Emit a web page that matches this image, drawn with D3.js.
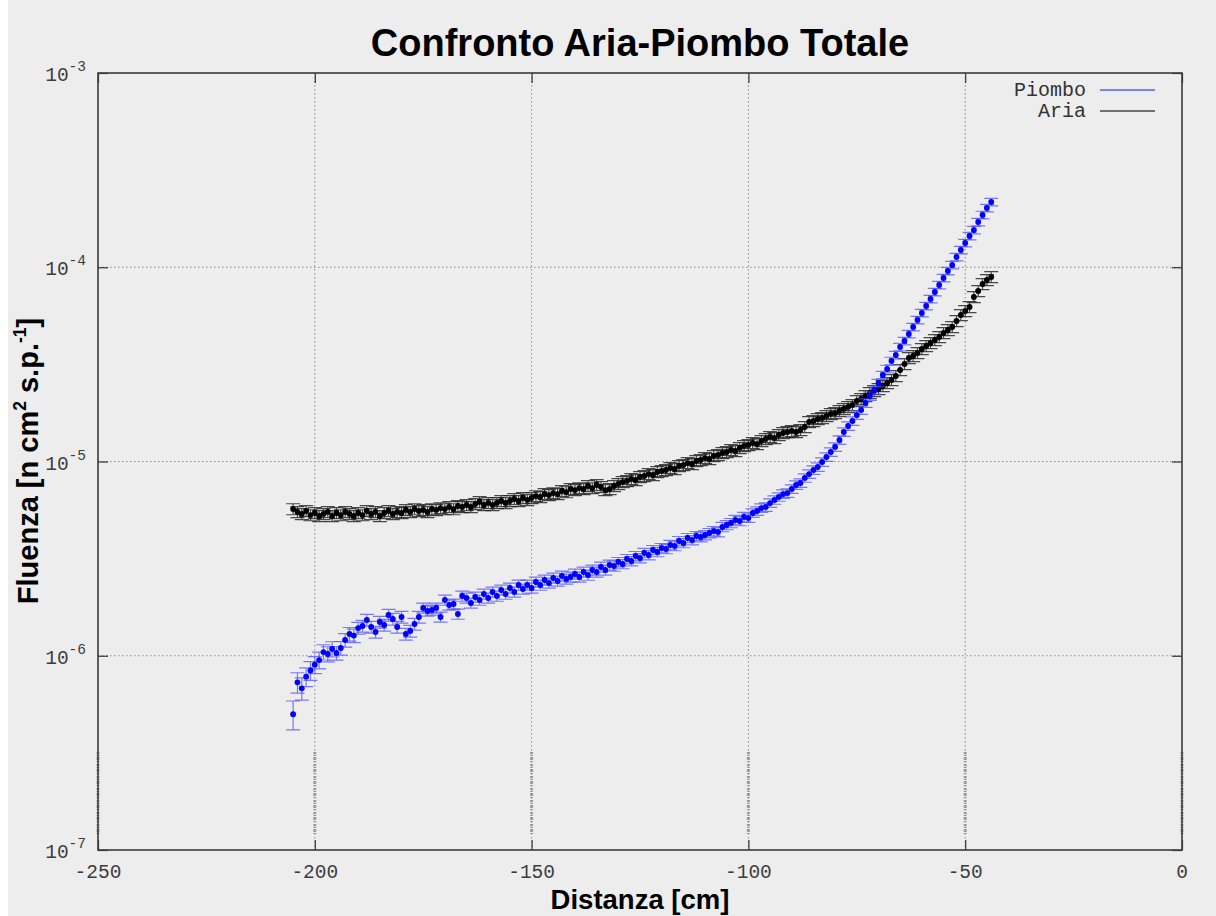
<!DOCTYPE html>
<html>
<head>
<meta charset="utf-8">
<script src="https://cdn.jsdelivr.net/npm/d3@7"></script>
<style>
  html, body { margin: 0; padding: 0; background: #ffffff; }
  svg { display: block; }
</style>
</head>
<body>
<svg id="chart" width="1216" height="916"></svg>
<script>
// Distance along the line [cm]
const distanza = [
  -205,-204,-203,-202,-201,-200,-199,-198,-197,-196,-195,-194,-193,-192,-191,-190,-189,-188,-187,-186,
  -185,-184,-183,-182,-181,-180,-179,-178,-177,-176,-175,-174,-173,-172,-171,-170,-169,-168,-167,-166,
  -165,-164,-163,-162,-161,-160,-159,-158,-157,-156,-155,-154,-153,-152,-151,-150,-149,-148,-147,-146,
  -145,-144,-143,-142,-141,-140,-139,-138,-137,-136,-135,-134,-133,-132,-131,-130,-129,-128,-127,-126,
  -125,-124,-123,-122,-121,-120,-119,-118,-117,-116,-115,-114,-113,-112,-111,-110,-109,-108,-107,-106,
  -105,-104,-103,-102,-101,-100,-99,-98,-97,-96,-95,-94,-93,-92,-91,-90,-89,-88,-87,-86,
  -85,-84,-83,-82,-81,-80,-79,-78,-77,-76,-75,-74,-73,-72,-71,-70,-69,-68,-67,-66,
  -65,-64,-63,-62,-61,-60,-59,-58,-57,-56,-55,-54,-53,-52,-51,-50,-49,-48,-47,-46,
  -45,-44
];

// Fluence with lead (Piombo) [n cm^2 s.p.^-1]
const piombo = [
  5.0e-7,7.3e-7,6.8e-7,7.8e-7,8.4e-7,9.0e-7,9.5e-7,1.045e-6,1.021e-6,1.083e-6,
  1.033e-6,1.096e-6,1.205e-6,1.294e-6,1.27e-6,1.389e-6,1.423e-6,1.528e-6,1.406e-6,1.325e-6,
  1.492e-6,1.440e-6,1.621e-6,1.546e-6,1.406e-6,1.583e-6,1.294e-6,1.341e-6,1.457e-6,1.583e-6,
  1.762e-6,1.700e-6,1.720e-6,1.762e-6,1.583e-6,1.936e-6,1.825e-6,1.847e-6,1.640e-6,2.030e-6,
  1.983e-6,1.869e-6,2.006e-6,1.936e-6,2.079e-6,1.983e-6,2.129e-6,2.030e-6,2.180e-6,2.079e-6,
  2.233e-6,2.129e-6,2.313e-6,2.206e-6,2.313e-6,2.233e-6,2.397e-6,2.313e-6,2.455e-6,2.369e-6,
  2.514e-6,2.426e-6,2.574e-6,2.485e-6,2.544e-6,2.635e-6,2.544e-6,2.699e-6,2.604e-6,2.764e-6,
  2.699e-6,2.863e-6,2.764e-6,2.932e-6,2.897e-6,3.038e-6,2.967e-6,3.148e-6,3.074e-6,3.262e-6,
  3.185e-6,3.381e-6,3.301e-6,3.503e-6,3.421e-6,3.587e-6,3.545e-6,3.717e-6,3.673e-6,3.896e-6,
  3.806e-6,4.038e-6,3.943e-6,4.135e-6,4.086e-6,4.184e-6,4.284e-6,4.386e-6,4.335e-6,4.601e-6,
  4.711e-6,4.824e-6,5.0e-6,4.94e-6,5.18e-6,5.12e-6,5.43e-6,5.56e-6,5.76e-6,5.83e-6,
  6.11e-6,6.34e-6,6.57e-6,6.80e-6,6.88e-6,7.22e-6,7.57e-6,7.75e-6,8.23e-6,8.62e-6,
  9.04e-6,9.37e-6,9.94e-6,1.055e-5,1.119e-5,1.188e-5,1.290e-5,1.419e-5,1.523e-5,1.616e-5,
  1.735e-5,1.842e-5,2.001e-5,2.174e-5,2.334e-5,2.536e-5,2.788e-5,2.994e-5,3.292e-5,3.534e-5,
  3.885e-5,4.172e-5,4.533e-5,4.925e-5,5.350e-5,5.813e-5,6.317e-5,6.863e-5,7.457e-5,8.102e-5,
  8.803e-5,9.565e-5,1.027e-4,1.129e-4,1.227e-4,1.333e-4,1.448e-4,1.555e-4,1.710e-4,1.858e-4,
  2.018e-4,2.167e-4
];

// Relative statistical error of the lead run [%]
const piomboErrPct = [
  17,12,13,11,11,10,10,9,9,9,
  8,8,8,8,8,7,7,7,7,7,
  7,7,7,7,7,7,7,7,7,7,
  6,6,6,6,6,6,6,6,6,6,6,6,6,6,6,6,6,6,6,6,6,6,6,6,6,
  6,6,6,6,6,6,6,6,6,6,6,6,6,6,6,6,6,6,6,6,
  5.5,5.5,5.5,5.5,5.5,5.5,5.5,5.5,5.5,5.5,5.5,5.5,5.5,5.5,5.5,
  5.5,5.5,5.5,5.5,5.5,5.5,5.5,5.5,5.5,5.5,5.5,5.5,5.5,5.5,5.5,
  5,5,5,5,5,5,5,5,5,5,5,5,5,5,5,5,5,5,5,5,5,5,5,5,5,5,5,5,5,5,
  4.5,4.5,4.5,4.5,4.5,4.5,4.5,4.5,4.5,4.5,4.5,4.5,4.5,4.5,
  4.5,4.5,4.5,4.5,4.5,4.5,4.5,4.5,4.5,4.5,4.5,4.5,4.5
];

// Fluence in air (Aria) [n cm^2 s.p.^-1]
const aria = [
  5.69e-6,5.50e-6,5.37e-6,5.56e-6,5.30e-6,5.43e-6,5.24e-6,5.37e-6,5.50e-6,5.24e-6,
  5.43e-6,5.30e-6,5.50e-6,5.37e-6,5.24e-6,5.43e-6,5.30e-6,5.56e-6,5.37e-6,5.50e-6,
  5.24e-6,5.43e-6,5.56e-6,5.37e-6,5.50e-6,5.43e-6,5.63e-6,5.50e-6,5.69e-6,5.56e-6,
  5.63e-6,5.50e-6,5.69e-6,5.63e-6,5.76e-6,5.69e-6,5.83e-6,5.69e-6,5.90e-6,5.83e-6,
  5.97e-6,5.83e-6,6.04e-6,6.19e-6,5.97e-6,6.12e-6,5.97e-6,6.12e-6,6.26e-6,6.12e-6,
  6.26e-6,6.41e-6,6.26e-6,6.49e-6,6.34e-6,6.49e-6,6.64e-6,6.57e-6,6.80e-6,6.72e-6,
  6.88e-6,6.80e-6,7.05e-6,6.96e-6,7.22e-6,7.13e-6,7.30e-6,7.22e-6,7.48e-6,7.30e-6,
  7.57e-6,7.39e-6,7.13e-6,7.22e-6,7.48e-6,7.66e-6,7.84e-6,7.94e-6,8.13e-6,8.03e-6,
  8.32e-6,8.42e-6,8.62e-6,8.52e-6,8.83e-6,8.94e-6,9.04e-6,9.26e-6,9.15e-6,9.48e-6,
  9.59e-6,9.82e-6,9.71e-6,1.006e-5,1.018e-5,1.042e-5,1.030e-5,1.067e-5,1.080e-5,1.106e-5,
  1.119e-5,1.146e-5,1.133e-5,1.174e-5,1.202e-5,1.216e-5,1.245e-5,1.230e-5,1.275e-5,1.306e-5,
  1.337e-5,1.321e-5,1.369e-5,1.402e-5,1.419e-5,1.436e-5,1.419e-5,1.453e-5,1.505e-5,1.597e-5,
  1.616e-5,1.655e-5,1.675e-5,1.715e-5,1.756e-5,1.777e-5,1.820e-5,1.864e-5,1.909e-5,1.954e-5,
  2.049e-5,2.098e-5,2.174e-5,2.252e-5,2.306e-5,2.362e-5,2.447e-5,2.536e-5,2.627e-5,2.755e-5,
  2.958e-5,3.177e-5,3.410e-5,3.493e-5,3.619e-5,3.795e-5,3.932e-5,4.074e-5,4.222e-5,4.374e-5,
  4.586e-5,4.753e-5,4.925e-5,5.288e-5,5.679e-5,5.954e-5,6.242e-5,7.028e-5,7.547e-5,8.199e-5,
  8.596e-5,8.910e-5
];

// Relative statistical error of the air run [%]
const ariaErrPct = 6.5;

const xTicks = [-250, -200, -150, -100, -50, 0];
const xTickLabels = ["-250", "-200", "-150", "-100", "-50", "0"];
const yTicks = [1e-3, 1e-4, 1e-5, 1e-6, 1e-7];
const yTickExponents = ["-3", "-4", "-5", "-6", "-7"];

const seriesNames = ["Piombo", "Aria"];
const titleText = "Confronto Aria-Piombo Totale";

// ---------------------------------------------------------------
const W = 1216, H = 916;
const plot = { left: 98, right: 1182, top: 73, bottom: 850 };

const svg = d3.select("#chart");

svg.append("rect").attr("x", 0).attr("y", 0).attr("width", W).attr("height", H).attr("fill", "#ffffff");
svg.append("rect").attr("x", 8).attr("y", 0).attr("width", W - 8).attr("height", H).attr("fill", "#ededed");

const x = d3.scaleLinear().domain([-250, 0]).range([plot.left, plot.right]);
const y = d3.scaleLog().domain([1e-7, 1e-3]).range([plot.bottom, plot.top]);

const monoFont = "'Liberation Mono', 'Courier New', monospace";
const sansFont = "'Liberation Sans', Arial, sans-serif";

// grid
const grid = svg.append("g").attr("class", "grid")
  .attr("stroke", "#8a8a8a").attr("stroke-width", 1).attr("stroke-dasharray", "1.5,2.5");
grid.selectAll("line.gx").data(xTicks.slice(1, -1)).join("line")
  .attr("x1", d => x(d)).attr("x2", d => x(d))
  .attr("y1", plot.top).attr("y2", plot.bottom);
grid.selectAll("line.gy").data(yTicks.slice(1, -1)).join("line")
  .attr("class", "gy")
  .attr("x1", plot.left).attr("x2", plot.right)
  .attr("y1", d => y(d)).attr("y2", d => y(d));

// faint vertical marker strips near the bottom of each x tick
svg.append("g").selectAll("line").data(xTicks).join("line")
  .attr("x1", d => x(d)).attr("x2", d => x(d))
  .attr("y1", 752).attr("y2", 836)
  .attr("stroke", "#8c8c8c").attr("stroke-width", 3)
  .attr("stroke-dasharray", "2,1,1,1,3,1,1,2")
  .attr("opacity", 0.8);

// axes with inward ticks
const axB = d3.axisBottom(x).tickValues(xTicks).tickSize(-10).tickFormat("");
const axT = d3.axisTop(x).tickValues(xTicks).tickSize(-10).tickFormat("");
const axL = d3.axisLeft(y).tickValues(yTicks).tickSize(-10).tickFormat("");
const axR = d3.axisRight(y).tickValues(yTicks).tickSize(-10).tickFormat("");
[[axB, `translate(0,${plot.bottom})`], [axT, `translate(0,${plot.top})`],
 [axL, `translate(${plot.left},0)`], [axR, `translate(${plot.right},0)`]].forEach(([ax, tr]) => {
  const g = svg.append("g").attr("transform", tr).call(ax);
  g.select(".domain").remove();
  g.selectAll(".tick line").attr("stroke", "#333").attr("stroke-width", 1.2);
});

// frame
svg.append("rect")
  .attr("x", plot.left).attr("y", plot.top)
  .attr("width", plot.right - plot.left).attr("height", plot.bottom - plot.top)
  .attr("fill", "none").attr("stroke", "#3a3a3a").attr("stroke-width", 1.6);

// x tick labels
svg.append("g").selectAll("text").data(xTicks).join("text")
  .attr("x", d => x(d)).attr("y", plot.bottom + 28)
  .attr("text-anchor", "middle")
  .attr("font-family", monoFont).attr("font-size", 19.5).attr("fill", "#3c3c3c")
  .text((d, i) => xTickLabels[i]);

// y tick labels (10 with superscript exponent)
const yl = svg.append("g").selectAll("text").data(yTicks).join("text")
  .attr("x", 86).attr("y", d => y(d) + 8)
  .attr("text-anchor", "end")
  .attr("font-family", monoFont).attr("fill", "#3c3c3c");
yl.append("tspan").attr("font-size", 19.5).text("10");
yl.append("tspan").attr("font-size", 14.5).attr("dy", -10).text((d, i) => yTickExponents[i]);

// series
function drawSeries(values, errFor, dotColor, barColor) {
  const pts = distanza.map((d, i) => ({ d, v: values[i], e: errFor(i) / 100 }));
  const g = svg.append("g");
  const cap = 7;
  const bars = g.append("g").attr("stroke", barColor).attr("stroke-width", 1.2).attr("fill", "none");
  bars.selectAll("path").data(pts).join("path")
    .attr("d", p => {
      const cx = x(p.d), y1 = y(p.v * (1 + p.e)), y0 = y(p.v * (1 - p.e));
      return `M${cx},${y0}V${y1}M${cx - cap},${y1}H${cx + cap}M${cx - cap},${y0}H${cx + cap}`;
    });
  g.append("g").selectAll("circle").data(pts).join("circle")
    .attr("cx", p => x(p.d)).attr("cy", p => y(p.v)).attr("r", 2.9)
    .attr("fill", dotColor);
}
drawSeries(aria, () => ariaErrPct, "#000000", "rgba(30,30,30,0.8)");
drawSeries(piombo, i => piomboErrPct[i], "#0000ff", "rgba(70,70,255,0.7)");

// legend
const legend = svg.append("g").attr("font-family", monoFont).attr("font-size", 20).attr("fill", "#333");
const legendColors = ["#5a5aff", "#444444"];
seriesNames.forEach((name, i) => {
  const ly = 90 + i * 21;
  legend.append("text").attr("x", 1086).attr("y", ly + 6).attr("text-anchor", "end").text(name);
  legend.append("line").attr("x1", 1100).attr("x2", 1155).attr("y1", ly).attr("y2", ly)
    .attr("stroke", legendColors[i]).attr("stroke-width", 1.3);
});

// titles
svg.append("text").attr("x", 640).attr("y", 56).attr("text-anchor", "middle")
  .attr("font-family", sansFont).attr("font-weight", "bold").attr("font-size", 38).attr("fill", "#000")
  .text(titleText);

svg.append("text").attr("x", 640).attr("y", 909).attr("text-anchor", "middle")
  .attr("font-family", sansFont).attr("font-weight", "bold").attr("font-size", 27.5).attr("fill", "#000")
  .text("Distanza [cm]");

const yt = svg.append("text")
  .attr("transform", "translate(38,461) rotate(-90)")
  .attr("text-anchor", "middle")
  .attr("font-family", sansFont).attr("font-weight", "bold").attr("font-size", 29).attr("fill", "#000");
yt.append("tspan").text("Fluenza [n cm");
yt.append("tspan").attr("font-size", 17.5).attr("dy", -12).text("2");
yt.append("tspan").attr("dy", 12).text(" s.p.");
yt.append("tspan").attr("font-size", 17.5).attr("dy", -12).text("-1");
yt.append("tspan").attr("dy", 12).text("]");
</script>
</body>
</html>
